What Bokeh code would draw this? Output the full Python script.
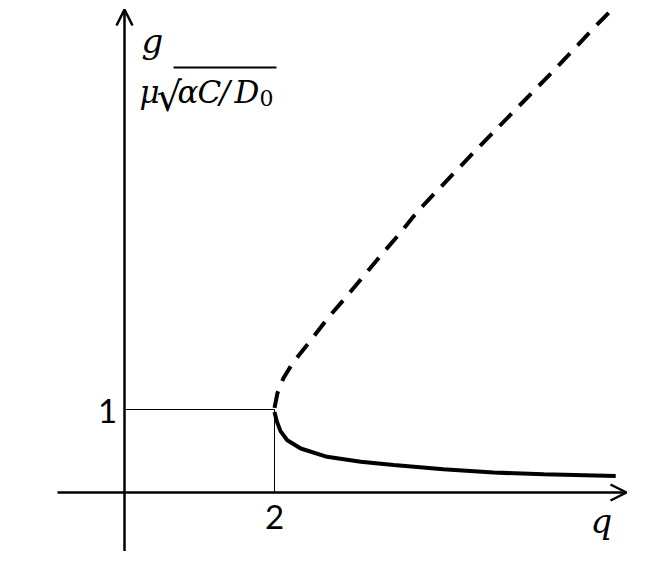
from bokeh.plotting import figure
from bokeh.models import Range1d, Arrow, OpenHead
from bokeh.core.properties import value
from bokeh.embed import file_html
from bokeh.resources import INLINE

# ---- data ----
q_stable = [2.0, 2.03, 2.08, 2.17, 2.35, 2.70, 3.15, 3.59, 4.25, 4.92, 5.59, 6.55]
g_stable = [0.97, 0.86, 0.74, 0.63, 0.53, 0.43, 0.37, 0.33, 0.28, 0.24, 0.22, 0.20]

q_unstable = [2.0, 2.04, 2.12, 2.25, 2.48, 2.71, 2.95, 3.19, 3.44, 3.68, 3.92, 4.68, 5.21, 5.72, 6.24, 6.51]
g_unstable = [1.02, 1.20, 1.38, 1.57, 1.83, 2.10, 2.35, 2.61, 2.88, 3.13, 3.40, 4.12, 4.61, 5.08, 5.58, 5.83]

q_crit = 2.0
g_crit = 1.0
x_tick_labels = ["2"]
y_tick_labels = ["1"]

# pixel (of the picture) -> data helpers (layout only)
def dx(px):
    return (px - 124) / 75.0

def dy(py):
    return (492 - py) / 83.0

W, H = 646, 551
p = figure(width=W, height=H, output_backend="svg", toolbar_location=None,
           x_range=Range1d(dx(0), dx(W)), y_range=Range1d(dy(H), dy(0)),
           x_axis_type=None, y_axis_type=None, min_border=0)
p.grid.visible = False
p.outline_line_color = None
p.background_fill_color = "white"
p.border_fill_color = "white"

# axes as arrows
p.add_layout(Arrow(end=OpenHead(size=16, line_width=2.5, line_color="black"),
                   x_start=dx(57), y_start=0, x_end=dx(626), y_end=0,
                   line_width=2.5, line_color="black"))
p.add_layout(Arrow(end=OpenHead(size=16, line_width=2.5, line_color="black"),
                   x_start=0, y_start=dy(575), x_end=0, y_end=dy(9),
                   line_width=2.5, line_color="black"))

# thin guide lines
p.segment(x0=[0, q_crit], y0=[g_crit, 0], x1=[q_crit, q_crit], y1=[g_crit, g_crit],
          line_color="black", line_width=1)

# curves
p.line(q_stable, g_stable, line_color="black", line_width=4)
p.line(q_unstable, g_unstable, line_color="black", line_width=4, line_dash="17 11")

def txt(x, y, s, font, size, style="normal", align="center", baseline="middle"):
    p.text(x=[x], y=[y], text=[s], text_font=value(font), text_font_size=value(size),
           text_font_style=style, text_color="black", text_align=align, text_baseline=baseline)

# tick labels
txt(dx(107), dy(410), y_tick_labels[0], "Lato", "33px")
txt(q_crit, dy(516), x_tick_labels[0], "Lato", "33px")

# axis labels
serif = "DejaVu Serif"
txt(dx(601), dy(520), "q", serif, "34px", "italic")
txt(dx(152), dy(40), "g", serif, "34px", "italic")
BL = 91
txt(dx(139), dy(BL), "μ", serif, "31px", "italic", "left", "alphabetic")
txt(dx(156), dy(96), "√", serif, "40px", "normal", "left", "alphabetic")
txt(dx(177), dy(BL), "α", serif, "31px", "italic", "left", "alphabetic")
txt(dx(197), dy(BL), "C", serif, "31px", "italic", "left", "alphabetic")
txt(dx(219), dy(BL), "/", serif, "31px", "italic", "left", "alphabetic")
txt(dx(234), dy(BL), "D", serif, "31px", "italic", "left", "alphabetic")
txt(dx(259), dy(97), "0", serif, "22px", "normal", "left", "alphabetic")
# radical overline
p.segment(x0=[dx(173)], y0=[dy(67)], x1=[dx(276)], y1=[dy(67)], line_color="black", line_width=2)

open("out.html", "w").write(file_html(p, INLINE))
